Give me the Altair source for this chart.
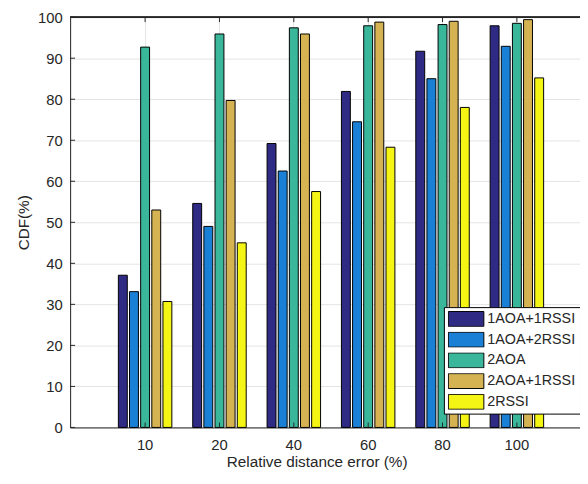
import altair as alt
import pandas as pd

categories = ["10", "20", "40", "60", "80", "100"]
series = ["1AOA+1RSSI", "1AOA+2RSSI", "2AOA", "2AOA+1RSSI", "2RSSI"]
v_1aoa_1rssi = [37.1, 54.6, 69.2, 81.9, 91.7, 97.9]
v_1aoa_2rssi = [33.1, 49.0, 62.5, 74.5, 85.0, 92.9]
v_2aoa = [92.7, 95.9, 97.4, 97.9, 98.2, 98.5]
v_2aoa_1rssi = [53.0, 79.7, 95.9, 98.8, 99.0, 99.4]
v_2rssi = [30.7, 45.0, 57.5, 68.3, 78.0, 85.2]
y_ticks = [0, 10, 20, 30, 40, 50, 60, 70, 80, 90, 100]
colors = ["#2f2a84", "#1a80d6", "#3ab79b", "#d6b352", "#f5f515"]

values = [v_1aoa_1rssi, v_1aoa_2rssi, v_2aoa, v_2aoa_1rssi, v_2rssi]
rows = []
for s, vals in zip(series, values):
    for c, v in zip(categories, vals):
        rows.append({"cat": c, "series": s, "value": v})
df = pd.DataFrame(rows)
cat_df = pd.DataFrame({"cat": categories})
yt_df = pd.DataFrame({"value": y_ticks})

W, H = 517, 416
FONT = "Liberation Sans"
TXT = "#262626"

xscale = alt.Scale(domain=categories, paddingInner=0.2507, paddingOuter=0.554, align=0.572)
yscale = alt.Scale(domain=[0, 100], nice=False, zero=True)

xaxis = alt.Axis(title="Relative distance error (%)", labelAngle=0, ticks=False,
                 grid=True, gridColor="#e4e4e4", bandPosition=0.5,
                 domainColor=TXT, labelColor=TXT, labelFontSize=15, labelFont=FONT,
                 labelPadding=10, titleFont=FONT, titleFontSize=15.5, titleFontWeight="normal",
                 titleColor=TXT, titleX=250, titleY=35, titleBaseline="middle")
yaxis = alt.Axis(title="CDF(%)", values=y_ticks, ticks=False, grid=True, gridColor="#e4e4e4",
                 domainColor=TXT, labelColor=TXT, labelFontSize=15, labelFont=FONT,
                 labelPadding=8, titleFont=FONT, titleFontSize=15.5, titleFontWeight="normal",
                 titleColor=TXT, titleX=-47, titleY=208, titleBaseline="middle")

bars = alt.Chart(df).mark_bar(stroke="black", strokeWidth=1).encode(
    x=alt.X("cat:N", scale=xscale, sort=categories, axis=xaxis),
    xOffset=alt.XOffset("series:N", sort=series,
                        scale=alt.Scale(domain=series, paddingInner=0.2, paddingOuter=0.1)),
    y=alt.Y("value:Q", scale=yscale, axis=yaxis),
    fill=alt.Fill("series:N", sort=series, scale=alt.Scale(domain=series, range=colors),
                  legend=alt.Legend(title=None, orient="none", legendX=379, legendY=294,
                                    strokeColor="black", fillColor="white", padding=4,
                                    symbolType="M-1,-0.42H1V0.42H-1Z", symbolSize=1296,
                                    symbolStrokeColor="black", symbolStrokeWidth=1,
                                    labelFont=FONT, labelFontSize=14.5, labelColor=TXT,
                                    labelOffset=3, clipHeight=16, rowPadding=5)),
)

bottom_ticks = alt.Chart(cat_df).mark_rule(color=TXT, strokeWidth=1).encode(
    x=alt.X("cat:N", scale=xscale, sort=categories, axis=xaxis),
    y=alt.value(H), y2=alt.value(H - 5),
)
top_ticks = alt.Chart(cat_df).mark_rule(color=TXT, strokeWidth=1).encode(
    x=alt.X("cat:N", scale=xscale, sort=categories, axis=xaxis),
    y=alt.value(0), y2=alt.value(5),
)
left_ticks = alt.Chart(yt_df).mark_rule(color=TXT, strokeWidth=1).encode(
    y=alt.Y("value:Q", scale=yscale, axis=yaxis),
    x=alt.value(0), x2=alt.value(5),
)
top_border = alt.Chart(cat_df).mark_rule(color=TXT, strokeWidth=1).encode(
    x=alt.value(0), x2=alt.value(W), y=alt.value(0),
)

chart = alt.layer(bars, bottom_ticks, top_ticks, left_ticks, top_border).properties(
    width=W, height=H,
    autosize=alt.AutoSizeParams(type="none"),
    padding={"left": 63, "top": 6, "right": 0, "bottom": 50},
).configure_view(stroke=None).configure(background="white")

chart.save("out.html", embed_options={"renderer": "svg", "actions": False})
